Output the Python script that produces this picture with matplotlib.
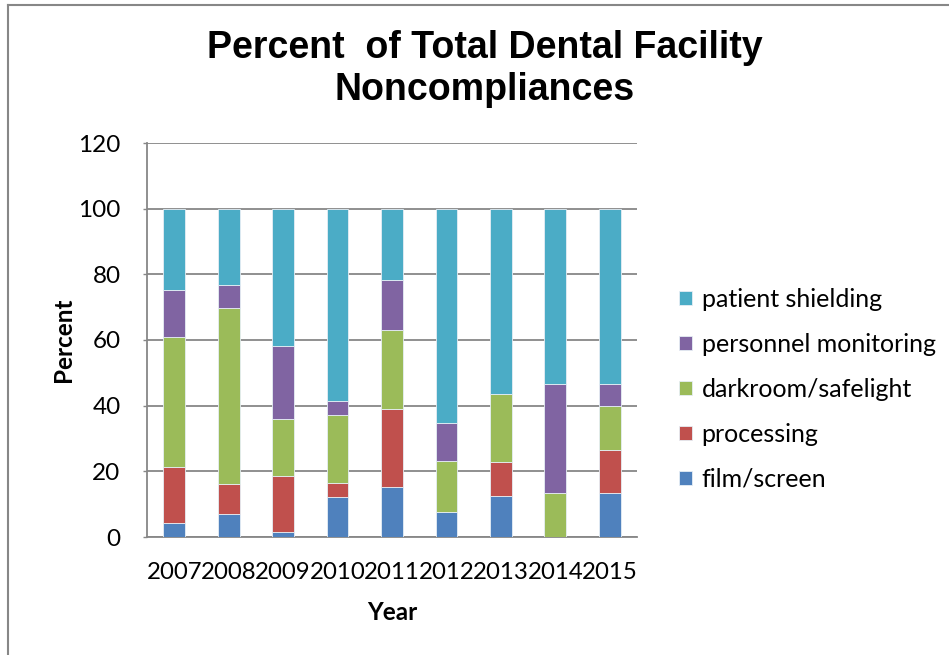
import matplotlib
matplotlib.use("Agg")
import matplotlib.pyplot as plt
from matplotlib.lines import Line2D
import numpy as np

years = ["2007", "2008", "2009", "2010", "2011", "2012", "2013", "2014", "2015"]
film_screen = [4.4, 7.1, 1.6, 12.2, 15.1, 7.7, 12.6, 0.0, 13.3]
processing = [17.0, 8.9, 17.1, 4.1, 23.9, 0.0, 10.2, 0.0, 13.3]
darkroom_safelight = [39.5, 53.6, 17.1, 21.0, 24.1, 15.4, 20.7, 13.3, 13.3]
personnel_monitoring = [14.2, 7.1, 22.5, 4.1, 15.1, 11.5, 0.0, 33.3, 6.7]
patient_shielding = [24.9, 23.3, 41.7, 58.6, 21.8, 65.4, 56.5, 53.4, 53.4]

series = [
    ("film/screen", film_screen, "#4F81BD"),
    ("processing", processing, "#C0504D"),
    ("darkroom/safelight", darkroom_safelight, "#9BBB59"),
    ("personnel monitoring", personnel_monitoring, "#8064A2"),
    ("patient shielding", patient_shielding, "#4BACC6"),
]

W, H = 949, 655
fig = plt.figure(figsize=(W / 100, H / 100), dpi=100)
ax = fig.add_axes([147 / W, 1 - 537 / H, (637 - 147) / W, (537 - 143) / H])

x = np.arange(len(years))
bottom = np.zeros(len(years))
handles = []
for name, vals, color in series:
    v = np.array(vals)
    b = ax.bar(x, v, width=0.4, bottom=bottom, color=color, edgecolor="#E6EEF5",
               linewidth=0.6, label=name, zorder=3)
    handles.append(b)
    bottom += v

ax.set_xlim(-0.5, len(years) - 0.5)
ax.set_ylim(0, 120)
ax.set_yticks(np.arange(0, 121, 20))
ax.set_xticks(x)
ax.set_xticklabels(years)

grid_c = "#878787"
ax.yaxis.grid(True, color=grid_c, linewidth=1.3, zorder=0)
ax.set_axisbelow(True)
for s in ["top", "right"]:
    ax.spines[s].set_visible(False)
for s in ["left", "bottom"]:
    ax.spines[s].set_color(grid_c)
    ax.spines[s].set_linewidth(1.3)
ax.tick_params(axis="y", length=3, color=grid_c, width=1.0, pad=16, labelsize=17.5)
ax.tick_params(axis="x", length=0, pad=18, labelsize=17.3)
for lab in ax.get_xticklabels() + ax.get_yticklabels():
    lab.set_fontfamily("Lato")

ax.set_ylabel("Percent", fontfamily="Lato", fontweight="bold", fontsize=17.5, labelpad=2)
ax.set_xlabel("Year", fontfamily="Lato", fontweight="bold", fontsize=17.5, labelpad=13)

fig.text(485 / W, 1 - 69 / H, "Percent  of Total Dental Facility\nNoncompliances",
         ha="center", va="center", fontfamily="Liberation Sans", fontweight="bold",
         fontsize=27, linespacing=1.25)

leg = fig.legend(handles[::-1], [s[0] for s in series][::-1],
                 loc="upper left", bbox_to_anchor=(679 / W, 1 - 288 / H),
                 frameon=False, prop={"family": "Lato", "size": 18},
                 handlelength=0.5, handleheight=0.5, handletextpad=0.4,
                 labelspacing=0.88, borderaxespad=0, borderpad=0)

fig.add_artist(Line2D([8 / W, 8 / W], [0, 1 - 4.5 / H], transform=fig.transFigure,
                      color=grid_c, linewidth=1.5))
fig.add_artist(Line2D([8 / W, 1], [1 - 4.5 / H, 1 - 4.5 / H], transform=fig.transFigure,
                      color=grid_c, linewidth=1.5))

fig.savefig("out.png", dpi=100)
